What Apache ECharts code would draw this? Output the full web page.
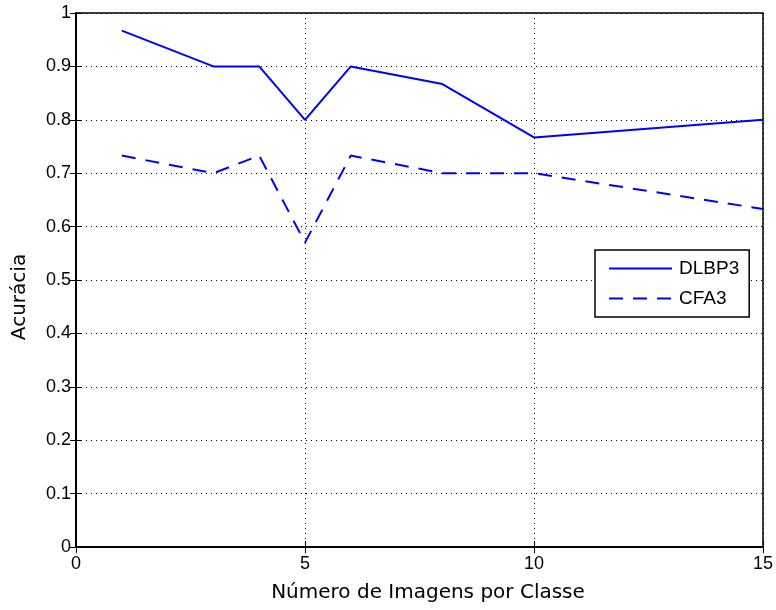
<!DOCTYPE html>
<html><head><meta charset="utf-8">
<script src="https://cdn.jsdelivr.net/npm/echarts@6/dist/echarts.min.js"></script>
<style>html,body{margin:0;padding:0;background:#fff}#c{width:776px;height:610px}</style>
</head><body><div id="c"></div>
<script>
const xValues = [1, 3, 4, 5, 6, 8, 10, 15];
const dlbp3 = [0.967, 0.9, 0.9, 0.8, 0.9, 0.867, 0.767, 0.8];
const cfa3 = [0.733, 0.7, 0.733, 0.57, 0.733, 0.7, 0.7, 0.633];
const seriesNames = ['DLBP3', 'CFA3'];
const xTitle = 'Número de Imagens por Classe';
const yTitle = 'Acurácia';

const tickFont = 'Liberation Sans';
const titleFont = 'DejaVu Sans';
const chart = echarts.init(document.getElementById('c'));
const gridLine = {show: true, lineStyle: {color: '#000', type: [1, 4], width: 1}};
chart.setOption({
  animation: false,
  backgroundColor: '#fff',
  grid: {left: 76, right: 13, top: 13, bottom: 63, show: true, borderColor: '#000', borderWidth: 1.5, backgroundColor: 'transparent'},
  legend: {
    left: 595, top: 250, orient: 'vertical',
    backgroundColor: '#fff', borderColor: '#000', borderWidth: 1.5,
    padding: [9, 10, 9, 13], itemGap: 11, itemWidth: 63, itemHeight: 20,
    textStyle: {fontFamily: tickFont, fontSize: 19, color: '#000', padding: [0, 0, 0, 2]},
    itemStyle: {opacity: 0},
    data: seriesNames
  },
  xAxis: [{
    type: 'value', min: 0, max: 15, interval: 5,
    name: xTitle, nameLocation: 'middle', nameGap: 36,
    nameTextStyle: {fontFamily: titleFont, fontSize: 20, color: '#000', padding: [0, 0, 0, 17]},
    axisLine: {show: true, lineStyle: {color: '#000', width: 1.5}},
    axisTick: {show: true, inside: true, length: 6, lineStyle: {color: '#000'}},
    axisLabel: {fontFamily: tickFont, fontSize: 18, color: '#000', margin: 8},
    splitLine: gridLine
  }, {
    type: 'value', min: 0, max: 15, interval: 5, position: 'top',
    axisLine: {show: true, lineStyle: {color: '#000', width: 1.5}},
    axisTick: {show: true, inside: true, length: 6, lineStyle: {color: '#000'}},
    axisLabel: {show: false}, splitLine: {show: false}
  }],
  yAxis: [{
    type: 'value', min: 0, max: 1, interval: 0.1,
    name: yTitle, nameLocation: 'middle', nameGap: 46,
    nameTextStyle: {fontFamily: titleFont, fontSize: 20, color: '#000', padding: [0, 34, 0, 0]},
    axisLine: {show: true, lineStyle: {color: '#000', width: 1.5}},
    axisTick: {show: true, inside: true, length: 6, lineStyle: {color: '#000'}},
    axisLabel: {fontFamily: tickFont, fontSize: 18, color: '#000', margin: 5,
      formatter: v => (Math.round(v * 10) / 10).toString()},
    splitLine: gridLine
  }, {
    type: 'value', min: 0, max: 1, interval: 0.1, position: 'right',
    axisLine: {show: true, lineStyle: {color: '#000', width: 1.5}},
    axisTick: {show: true, inside: true, length: 6, lineStyle: {color: '#000'}},
    axisLabel: {show: false}, splitLine: {show: false}
  }],
  series: [{
    name: seriesNames[0], type: 'line', symbol: 'none',
    data: xValues.map((x, i) => [x, dlbp3[i]]),
    lineStyle: {color: '#0000ff', width: 2, type: 'solid'},
    itemStyle: {color: '#0000ff'}
  }, {
    name: seriesNames[1], type: 'line', symbol: 'none',
    data: xValues.map((x, i) => [x, cfa3[i]]),
    lineStyle: {color: '#0000ff', width: 2, type: [14, 10]},
    itemStyle: {color: '#0000ff'}
  }]
});
</script></body></html>
